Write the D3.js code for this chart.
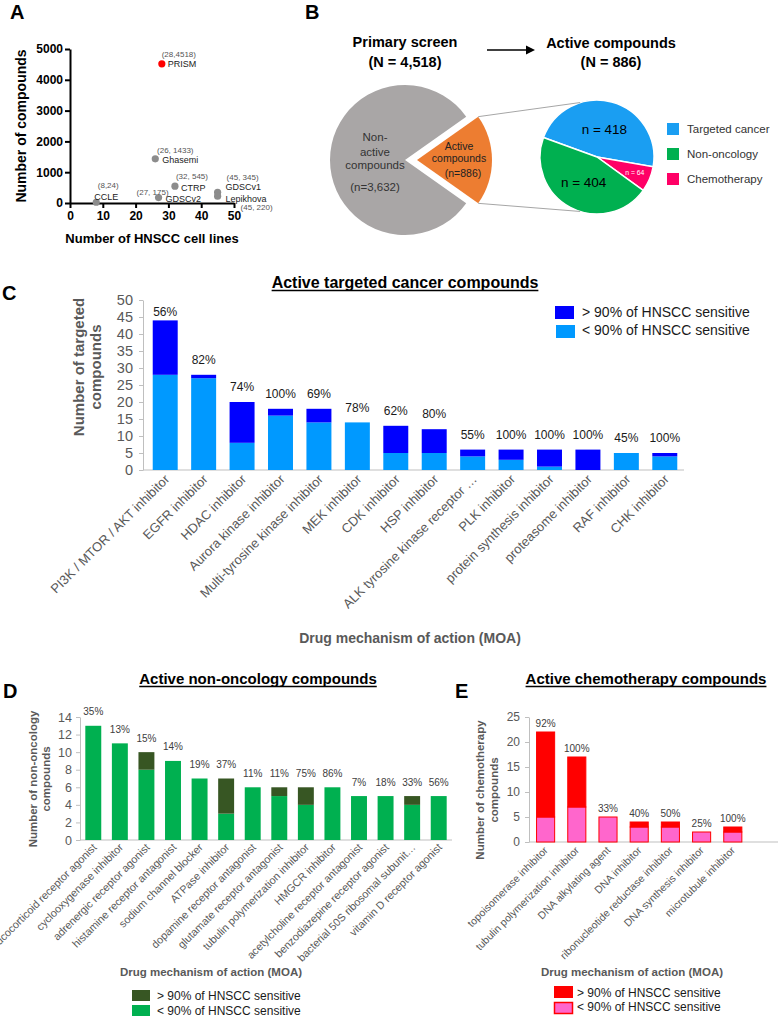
<!DOCTYPE html>
<html><head><meta charset="utf-8">
<script src="https://cdn.jsdelivr.net/npm/d3@7/dist/d3.min.js"></script>
<style>
html,body{margin:0;padding:0;background:#fff;}
svg{display:block;}
text{font-family:'Liberation Sans',Arial,Helvetica,sans-serif;}
</style></head><body>
<svg id="fig" width="779" height="1018" viewBox="0 0 779 1018"></svg>
<script>
// ================= DATA =================
// Panel A
const aDatasets    = ["PRISM","Ghasemi","CTRP","GDSCv2","CCLE","GDSCv1","Lepikhova"];
const aCellLines   = [28, 26, 32, 27, 8, 45, 45];
const aCompounds   = [4518, 1433, 545, 175, 24, 345, 220];
const aPointLabels = ["(28,4518)","(26, 1433)","(32, 545)","(27, 175)","(8,24)","(45, 345)","(45, 220)"];
const aXTicks = [0,10,20,30,40,50];
const aYTicks = [0,1000,2000,3000,4000,5000];

// Panel B
const screenGroups = ["Active compounds","Non-active compounds"];
const screenCounts = [886, 3632];
const activeGroups = ["Targeted cancer","Chemotherapy","Non-oncology"];
const activeCounts = [418, 64, 404];
const activeLegend = ["Targeted cancer","Non-oncology","Chemotherapy"];

// Panel C
const cCategories = ["PI3K / MTOR / AKT inhibitor","EGFR inhibitor","HDAC inhibitor","Aurora kinase inhibitor","Multi-tyrosine kinase inhibitor","MEK inhibitor","CDK inhibitor","HSP inhibitor","ALK tyrosine kinase receptor …","PLK inhibitor","protein synthesis inhibitor","proteasome inhibitor","RAF inhibitor","CHK inhibitor"];
const cBelow90 = [28,27,8,16,14,14,5,5,4,3,1,0,5,4];
const cAbove90 = [16,1,12,2,4,0,8,7,2,3,5,6,0,1];
const cPercent = ["56%","82%","74%","100%","69%","78%","62%","80%","55%","100%","100%","100%","45%","100%"];
const cYTicks  = [0,5,10,15,20,25,30,35,40,45,50];

// Panel D
const dCategories = ["glucocorticoid receptor agonist","cyclooxygenase inhibitor","adrenergic receptor agonist","histamine receptor antagonist","sodium channel blocker","ATPase inhibitor","dopamine receptor antagonist","glutamate receptor antagonist","tubulin polymerization inhibitor","HMGCR inhibitor","acetylcholine receptor antagonist","benzodiazepine receptor agonist","bacterial 50S ribosomal subunit…","vitamin D receptor agonist"];
const dBelow90 = [13,11,8,9,7,3,6,5,4,6,5,5,4,5];
const dAbove90 = [0,0,2,0,0,4,0,1,2,0,0,0,1,0];
const dPercent = ["35%","13%","15%","14%","19%","37%","11%","11%","75%","86%","7%","18%","33%","56%"];
const dYTicks  = [0,2,4,6,8,10,12,14];

// Panel E
const eCategories = ["topoisomerase inhibitor","tubulin polymerization inhibitor","DNA alkylating agent","DNA inhibitor","ribonucleotide reductase inhibitor","DNA synthesis inhibitor","microtubule inhibitor"];
const eBelow90 = [5,7,5,3,3,2,2];
const eAbove90 = [17,10,0,1,1,0,1];
const ePercent = ["92%","100%","33%","40%","50%","25%","100%"];
const eYTicks  = [0,5,10,15,20,25];

// ================= DRAW =================
const FONT = "'Liberation Sans', Arial, Helvetica, sans-serif";
const svg = d3.select("#fig");
const AXIS = "#bfbfbf", TICKC = "#595959";

function txt(p, x, y, s, size, o = {}) {
  return p.append("text").attr("x", x).attr("y", y).text(s)
    .attr("font-size", size).attr("font-weight", o.bold ? "bold" : null)
    .attr("fill", o.fill || "#000").attr("text-anchor", o.anchor || "start");
}
function underlinedTitle(x, y, s, size) {
  const t = txt(svg, x, y, s, size, {bold: true, anchor: "middle"});
  const w = t.node().getComputedTextLength();
  svg.append("line").attr("x1", x - w / 2).attr("x2", x + w / 2)
    .attr("y1", y + 2.5).attr("y2", y + 2.5).attr("stroke", "#000").attr("stroke-width", 1.4);
}
function rotTitle(x, y, lines, size, gap) {
  const g = svg.append("g").attr("transform", `translate(${x},${y}) rotate(-90)`);
  lines.forEach((l, i) => txt(g, 0, i * gap, l, size, {bold: true, anchor: "middle", fill: TICKC}));
}

// panel letters
[["A",10,19],["B",305,19],["C",2,300],["D",3,698],["E",455,698]].forEach(d =>
  txt(svg, d[1], d[2], d[0], 20, {bold: true}));

// ---------- Panel A ----------
(function () {
  const x = d3.scaleLinear([0, 50], [70, 234]);
  const y = d3.scaleLinear([0, 5000], [203, 49]);
  const g = svg.append("g");
  const ax = g.append("g").attr("transform", `translate(0,${y(0)})`)
    .call(d3.axisBottom(x).tickValues(aXTicks).tickFormat(d3.format("d")).tickSize(5).tickSizeOuter(0).tickPadding(3));
  const ay = g.append("g").attr("transform", `translate(${x(0)},0)`)
    .call(d3.axisLeft(y).tickValues(aYTicks).tickFormat(d3.format("d")).tickSize(5).tickSizeOuter(0).tickPadding(2));
  [ax, ay].forEach(a => {
    a.attr("font-family", FONT).attr("font-size", 12).attr("font-weight", "bold");
    a.select(".domain").attr("stroke", "#000").attr("stroke-width", 2);
    a.selectAll(".tick line").attr("stroke", "#000").attr("stroke-width", 2);
    a.selectAll(".tick text").attr("fill", "#000");
  });
  txt(svg, 152, 243, "Number of HNSCC cell lines", 13, {bold: true, anchor: "middle"});
  const gt = svg.append("g").attr("transform", "translate(26,126) rotate(-90)");
  txt(gt, 0, 0, "Number of compounds", 14, {bold: true, anchor: "middle"});

  // annotation placement (px offsets from each point): coord label [dx,dy,anchor], name [dx,dy,anchor]
  const place = [
    [17,-10,"middle", 6,0,"start"],
    [20,-9,"middle", 7,1,"start"],
    [17,-10,"middle", 6,1,"start"],
    [-6,-6,"middle", 7,1,"start"],
    [12,-17,"middle", 10,-6,"middle"],
    [25,-15,"middle", 8,-6,"start"],
    [23,11,"start", 8,2,"start"]
  ];
  aDatasets.forEach((n, i) => {
    const px = x(aCellLines[i]), py = y(aCompounds[i]);
    g.append("circle").attr("cx", px).attr("cy", py).attr("r", 3.6)
      .attr("fill", n === "PRISM" ? "#ff0000" : "#8c8c8c");
    const p = place[i];
    txt(g, px + p[0], py + p[1] + 3, aPointLabels[i], 8, {anchor: p[2], fill: "#555"});
    txt(g, px + p[3], py + p[4] + 3.3, n, 9, {anchor: p[5], fill: "#222"});
  });
})();

// ---------- Panel B ----------
(function () {
  txt(svg, 405, 47, "Primary screen", 14.5, {bold: true, anchor: "middle"});
  txt(svg, 405, 67, "(N = 4,518)", 14.5, {bold: true, anchor: "middle"});
  txt(svg, 611, 48, "Active compounds", 14.5, {bold: true, anchor: "middle"});
  txt(svg, 611, 67, "(N = 886)", 14.5, {bold: true, anchor: "middle"});
  svg.append("line").attr("x1", 487).attr("x2", 528).attr("y1", 50).attr("y2", 50)
    .attr("stroke", "#000").attr("stroke-width", 1.6);
  svg.append("path").attr("d", "M535,50 L526,45.5 L526,54.5 Z").attr("fill", "#000");

  const cx = 405, cy = 160, R = 75;
  const half = Math.PI * screenCounts[0] / d3.sum(screenCounts);
  const pie = d3.pie().sort(null).startAngle(Math.PI / 2 - half).endAngle(Math.PI / 2 - half + 2 * Math.PI);
  const arcs = pie(screenCounts);
  const arc = d3.arc().innerRadius(0).outerRadius(R);
  const colors = ["#ed7d31", "#a9a6a6"];
  const shift = 12;
  arcs.forEach((a, i) => {
    const ox = i === 0 ? shift : 0;
    svg.append("path").attr("d", arc(a)).attr("fill", colors[i])
      .attr("transform", `translate(${cx + ox},${cy})`);
  });
  [["Non-",-19],["active",-4],["compounds",9],["(n=3,632)",31]].forEach(l =>
    txt(svg, cx - 30, cy + l[1], l[0], 11.5, {anchor: "middle", fill: "#333"}));
  [["Active",-10,42],["compounds",2,42],["(n=886)",17,46]].forEach(l =>
    txt(svg, cx + shift + l[2], cy + l[1], l[0], 10.5, {anchor: "middle", fill: "#222"}));

  // small pie
  const sx = 597, sy = 157, r2 = 57;
  const pie2 = d3.pie().sort(null).startAngle(-70 * Math.PI / 180).endAngle(290 * Math.PI / 180);
  const arcs2 = pie2(activeCounts);
  const arc2 = d3.arc().innerRadius(0).outerRadius(r2);
  const col2 = {"Targeted cancer": "#1a9ef2", "Chemotherapy": "#ff0066", "Non-oncology": "#00b050"};
  const gp = svg.append("g").attr("transform", `translate(${sx},${sy})`);
  gp.selectAll("path").data(arcs2).join("path").attr("d", arc2)
    .attr("fill", (d, i) => col2[activeGroups[i]]).attr("stroke", "#fff").attr("stroke-width", 1.5);
  const labArc = d3.arc().innerRadius(r2 * 0.72).outerRadius(r2 * 0.72);
  arcs2.forEach((a, i) => {
    const small = activeGroups[i] === "Chemotherapy";
    const c = small ? labArc.centroid(a) : arc2.centroid(a);
    gp.append("text").attr("x", c[0]).attr("y", c[1]).attr("dy", "0.36em")
      .attr("text-anchor", "middle").attr("font-size", small ? 6.8 : 13.5)
      .attr("fill", small ? "#fff" : "#000").text("n = " + activeCounts[i]);
  });
  // connector lines
  const t1 = d3.pointRadial(Math.PI / 2 - half, R), t2 = d3.pointRadial(Math.PI / 2 + half, R);
  const p1 = d3.pointRadial(-0.30, r2), p2 = d3.pointRadial(Math.PI + 0.30, r2);
  [[t1, p1], [t2, p2]].forEach(([a, b]) =>
    svg.append("line").attr("x1", cx + shift + a[0]).attr("y1", cy + a[1])
      .attr("x2", sx + b[0]).attr("y2", sy + b[1]).attr("stroke", "#a6a6a6").attr("stroke-width", 1));
  // legend
  activeLegend.forEach((n, i) => {
    const yy = [129, 154, 179][i];
    svg.append("rect").attr("x", 667).attr("y", yy - 6).attr("width", 12).attr("height", 12).attr("fill", col2[n]);
    txt(svg, 687, yy + 4, n, 11.5, {fill: "#333"});
  });
})();

// ---------- Bar panels ----------
function barPanel(o) {
  const g = svg.append("g");
  const x = d3.scaleBand(o.cats, o.xRange).paddingInner(o.pi).paddingOuter(o.pi / 2);
  const y = d3.scaleLinear([0, o.yMax], o.yRange);
  const ay = g.append("g").attr("transform", `translate(${o.axisX},0)`)
    .call(d3.axisLeft(y).tickValues(o.ticks).tickSize(4).tickSizeOuter(0).tickPadding(o.tickPad));
  ay.attr("font-family", FONT).attr("font-size", o.tickFont);
  ay.select(".domain").attr("stroke", AXIS);
  ay.selectAll(".tick line").attr("stroke", AXIS);
  ay.selectAll(".tick text").attr("fill", TICKC);
  g.append("line").attr("x1", o.axisX).attr("x2", o.axisEnd).attr("y1", y(0)).attr("y2", y(0)).attr("stroke", AXIS);
  const rows = o.cats.map((c, i) => ({c, b: o.below[i], a: o.above[i], p: o.pct[i]}));
  g.selectAll("rect.lo").data(rows).join("rect").attr("class", "lo")
    .attr("x", d => x(d.c)).attr("width", x.bandwidth())
    .attr("y", d => y(d.b)).attr("height", d => y(0) - y(d.b))
    .attr("fill", o.light).attr("stroke", o.stroke || "none").attr("stroke-width", o.stroke ? 1 : 0);
  g.selectAll("rect.hi").data(rows.filter(d => d.a > 0)).join("rect").attr("class", "hi")
    .attr("x", d => x(d.c)).attr("width", x.bandwidth())
    .attr("y", d => y(d.b + d.a)).attr("height", d => y(d.b) - y(d.b + d.a))
    .attr("fill", o.dark).attr("stroke", o.stroke || "none").attr("stroke-width", o.stroke ? 1 : 0);
  rows.forEach(d => {
    const cy = Math.max(y(d.a + d.b) - o.pctGap, o.pctMin || -1e9);
    txt(g, x(d.c) + x.bandwidth() / 2, cy + o.pctFont * 0.35, d.p, o.pctFont, {anchor: "middle", fill: o.pctFill});
    g.append("text").attr("transform", `translate(${x(d.c) + x.bandwidth() / 2 + o.labDx},${y(0) + o.labDy}) rotate(-45)`)
      .attr("text-anchor", "end").attr("font-size", o.labFont).attr("fill", TICKC).text(d.c);
  });
  return {x, y};
}

// Panel C
underlinedTitle(405, 288, "Active targeted cancer compounds", 16);
barPanel({cats: cCategories, below: cBelow90, above: cAbove90, pct: cPercent,
  xRange: [146, 684], pi: 0.35, yMax: 50, yRange: [470, 300], ticks: cYTicks,
  axisX: 143, axisEnd: 684, tickPad: 6, tickFont: 14.5,
  light: "#0099ff", dark: "#0000ff", pctGap: 15, pctMin: 312, pctFont: 12, pctFill: "#1a1a1a",
  labDx: 5, labDy: 10, labFont: 13});
rotTitle(84, 367, ["Number of targeted", "compounds"], 15, 17);
txt(svg, 410, 643, "Drug mechanism of action (MOA)", 14, {bold: true, anchor: "middle", fill: TICKC});
svg.append("rect").attr("x", 555).attr("y", 306).attr("width", 19).attr("height", 13).attr("fill", "#0000ff");
svg.append("rect").attr("x", 556).attr("y", 325).attr("width", 19).attr("height", 13).attr("fill", "#0099ff");
txt(svg, 582, 317, "> 90% of HNSCC sensitive", 14, {fill: "#1a1a1a"});
txt(svg, 582, 335, "< 90% of HNSCC sensitive", 14, {fill: "#1a1a1a"});

// Panel D
underlinedTitle(258, 684, "Active non-oncology compounds", 15);
barPanel({cats: dCategories, below: dBelow90, above: dAbove90, pct: dPercent,
  xRange: [80, 452], pi: 0.4, yMax: 14, yRange: [840, 717], ticks: dYTicks,
  axisX: 80, axisEnd: 452, tickPad: 4, tickFont: 12.5,
  light: "#00b050", dark: "#375623", pctGap: 14, pctFont: 10, pctFill: "#404040",
  labDx: 4, labDy: 8, labFont: 10.8});
rotTitle(37, 779, ["Number of non-oncology", "compounds"], 11.5, 13);
txt(svg, 211, 976, "Drug mechanism of action (MOA)", 11.5, {bold: true, anchor: "middle", fill: TICKC});
svg.append("rect").attr("x", 132).attr("y", 990).attr("width", 18).attr("height", 11).attr("fill", "#375623");
svg.append("rect").attr("x", 132).attr("y", 1005).attr("width", 18).attr("height", 11).attr("fill", "#00b050");
txt(svg, 157, 1000, "> 90% of HNSCC sensitive", 12, {fill: "#1a1a1a"});
txt(svg, 157, 1015, "< 90% of HNSCC sensitive", 12, {fill: "#1a1a1a"});

// Panel E
underlinedTitle(646, 684, "Active chemotherapy compounds", 15);
barPanel({cats: eCategories, below: eBelow90, above: eAbove90, pct: ePercent,
  xRange: [530, 748.4], pi: 0.42, yMax: 25, yRange: [842, 717], ticks: eYTicks,
  axisX: 529, axisEnd: 778, tickPad: 5, tickFont: 12,
  light: "#ff66cc", dark: "#ff0000", stroke: "#ff0000", pctGap: 9, pctFont: 10, pctFill: "#404040",
  labDx: 3, labDy: 9, labFont: 10.5});
rotTitle(484, 790, ["Number of chemotherapy", "compounds"], 11.5, 14);
txt(svg, 632, 976, "Drug mechanism of action (MOA)", 11.5, {bold: true, anchor: "middle", fill: TICKC});
svg.append("rect").attr("x", 554.5).attr("y", 986.5).attr("width", 18).attr("height", 11).attr("fill", "#ff0000").attr("stroke", "#ff0000");
svg.append("rect").attr("x", 554.5).attr("y", 1002.5).attr("width", 18).attr("height", 11).attr("fill", "#ff66cc").attr("stroke", "#ff0000").attr("stroke-width", 1.5);
txt(svg, 577, 997, "> 90% of HNSCC sensitive", 12, {fill: "#1a1a1a"});
txt(svg, 577, 1011, "< 90% of HNSCC sensitive", 12, {fill: "#1a1a1a"});
</script>
</body></html>
